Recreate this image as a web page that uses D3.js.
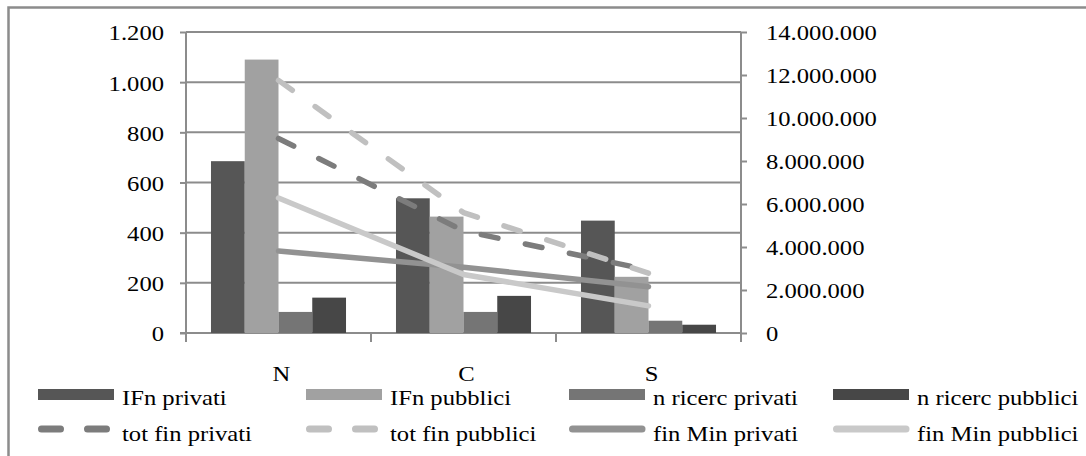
<!DOCTYPE html>
<html>
<head>
<meta charset="utf-8">
<script src="https://cdn.jsdelivr.net/npm/d3@7"></script>
<style>
html,body{margin:0;padding:0;background:#fff;}
svg{display:block;}
text{font-family:"Liberation Serif","Times New Roman",serif;fill:#000;}
</style>
</head>
<body>
<svg id="chart" width="1086" height="456"></svg>
<script>
const categories = ["N", "C", "S"];
const ifnPrivati = [685, 537, 448];
const ifnPubblici = [1090, 464, 224];
const nRicercPrivati = [84, 84, 49];
const nRicercPubblici = [141, 148, 33];
const totFinPrivati = [9050000, 4750000, 2930000];
const totFinPubblici = [11750000, 5600000, 2780000];
const finMinPrivati = [3810000, 3060000, 2150000];
const finMinPubblici = [6280000, 2720000, 1260000];
const leftTicks = [0, 200, 400, 600, 800, 1000, 1200];
const rightTicks = [0, 2000000, 4000000, 6000000, 8000000, 10000000, 12000000, 14000000];

const barSeries = [
  {name: "IFn privati", values: ifnPrivati, color: "#565656"},
  {name: "IFn pubblici", values: ifnPubblici, color: "#a1a1a1"},
  {name: "n ricerc privati", values: nRicercPrivati, color: "#757575"},
  {name: "n ricerc pubblici", values: nRicercPubblici, color: "#474747"}
];
const lineSeries = [
  {name: "tot fin privati", values: totFinPrivati, color: "#7c7c7c", dash: true},
  {name: "tot fin pubblici", values: totFinPubblici, color: "#c0c0c0", dash: true},
  {name: "fin Min privati", values: finMinPrivati, color: "#929292", dash: false},
  {name: "fin Min pubblici", values: finMinPubblici, color: "#c9c9c9", dash: false}
];

const SX = 1.12;
const FS = 22;
const grid = "#8c8c8c";
const svg = d3.select("#chart");

const it = d3.formatLocale({decimal: ",", thousands: ".", grouping: [3], currency: ["€", ""]});
const fmt = it.format(",d");

const L = 186, R = 741, T = 32, B = 333;
const x = d3.scaleBand().domain(categories).range([L, R]).paddingInner(0).paddingOuter(0);
const xi = d3.scaleBand().domain(barSeries.map(d => d.name)).range([0, x.bandwidth()]).paddingInner(0).paddingOuter(0.74);
const yL = d3.scaleLinear().domain([0, 1200]).range([B, T]);
const yR = d3.scaleLinear().domain([0, 14000000]).range([B, T]);

// outer frame
svg.append("rect").attr("x", 8.5).attr("y", 7.5).attr("width", 1100).attr("height", 470)
  .attr("fill", "none").attr("stroke", grid).attr("stroke-width", 2.5);

// gridlines
svg.append("g").selectAll("line").data(leftTicks.filter(d => d > 0)).join("line")
  .attr("x1", L).attr("x2", R).attr("y1", d => yL(d)).attr("y2", d => yL(d))
  .attr("stroke", grid).attr("stroke-width", 2);

// left axis
const gl = svg.append("g").attr("transform", `translate(${L},0)`)
  .call(d3.axisLeft(yL).tickValues(leftTicks).tickFormat(fmt).tickSize(6).tickPadding(0));
gl.select(".domain").attr("d", `M0,${T}V${B + 9}`);
gl.selectAll("path,line").attr("stroke", grid).attr("stroke-width", 2);
gl.selectAll("text").attr("x", -22 / SX).attr("dy", "0.36em").attr("transform", `scale(${SX},1)`)
  .style("font-size", FS + "px").attr("fill", "#000");

// right axis
const gr = svg.append("g").attr("transform", `translate(${R},0)`)
  .call(d3.axisRight(yR).tickValues(rightTicks).tickFormat(fmt).tickSize(6).tickPadding(0));
gr.select(".domain").attr("d", `M0,${T}V${B + 9}`);
gr.selectAll("path,line").attr("stroke", grid).attr("stroke-width", 2);
gr.selectAll("text").attr("x", 25 / SX).attr("dy", "0.36em").attr("transform", `scale(${SX},1)`)
  .style("font-size", FS + "px").attr("fill", "#000").attr("text-anchor", "start");

// bottom axis (category boundaries)
const gb = svg.append("g").attr("transform", `translate(0,${B})`)
  .call(d3.axisBottom(x).tickSize(0).tickFormat(""));
gb.select(".domain").attr("d", `M${L - 6},0H${R}`).attr("stroke", grid).attr("stroke-width", 2);
gb.append("g").selectAll("line").data(categories.slice(1)).join("line")
  .attr("x1", d => x(d)).attr("x2", d => x(d)).attr("y1", 0).attr("y2", 9)
  .attr("stroke", grid).attr("stroke-width", 2);

// category labels
svg.append("g").selectAll("text").data(categories).join("text")
  .attr("transform", d => `translate(${x(d) + x.bandwidth() / 2 + 3},381) scale(${SX},1)`)
  .attr("text-anchor", "middle").style("font-size", FS + "px").text(d => d);

// bars
const bars = svg.append("g");
barSeries.forEach(s => {
  bars.append("g").selectAll("rect").data(categories).join("rect")
    .attr("x", (c) => x(c) + xi(s.name))
    .attr("width", xi.bandwidth())
    .attr("y", (c, i) => yL(s.values[i]))
    .attr("height", (c, i) => B - yL(s.values[i]))
    .attr("fill", s.color);
});

// lines
const line = d3.line().x(d => x(d.c) + x.bandwidth() / 2).y(d => yR(d.v));
lineSeries.forEach(s => {
  svg.append("path")
    .datum(categories.map((c, i) => ({c, v: s.values[i]})))
    .attr("d", line)
    .attr("fill", "none")
    .attr("stroke", s.color)
    .attr("stroke-width", 5.5)
    .attr("stroke-linecap", "round")
    .attr("stroke-linejoin", "round")
    .attr("stroke-dasharray", s.dash ? "17,28" : null);
});

// legend
const colX = [38, 306, 569, 833];
const leg = svg.append("g");
barSeries.forEach((s, i) => {
  leg.append("rect").attr("x", colX[i]).attr("y", 389).attr("width", 76).attr("height", 11).attr("fill", s.color);
  leg.append("text").attr("transform", `translate(${colX[i] + 84},405) scale(${SX},1)`)
    .style("font-size", FS + "px").text(s.name);
});
lineSeries.forEach((s, i) => {
  leg.append("line").attr("x1", colX[i] + 3.5).attr("x2", colX[i] + 73).attr("y1", 429).attr("y2", 429)
    .attr("stroke", s.color).attr("stroke-width", 7).attr("stroke-linecap", "round")
    .attr("stroke-dasharray", s.dash ? "19,27" : null);
  leg.append("text").attr("transform", `translate(${colX[i] + 84},441) scale(${SX},1)`)
    .style("font-size", FS + "px").text(s.name);
});
</script>
</body>
</html>
